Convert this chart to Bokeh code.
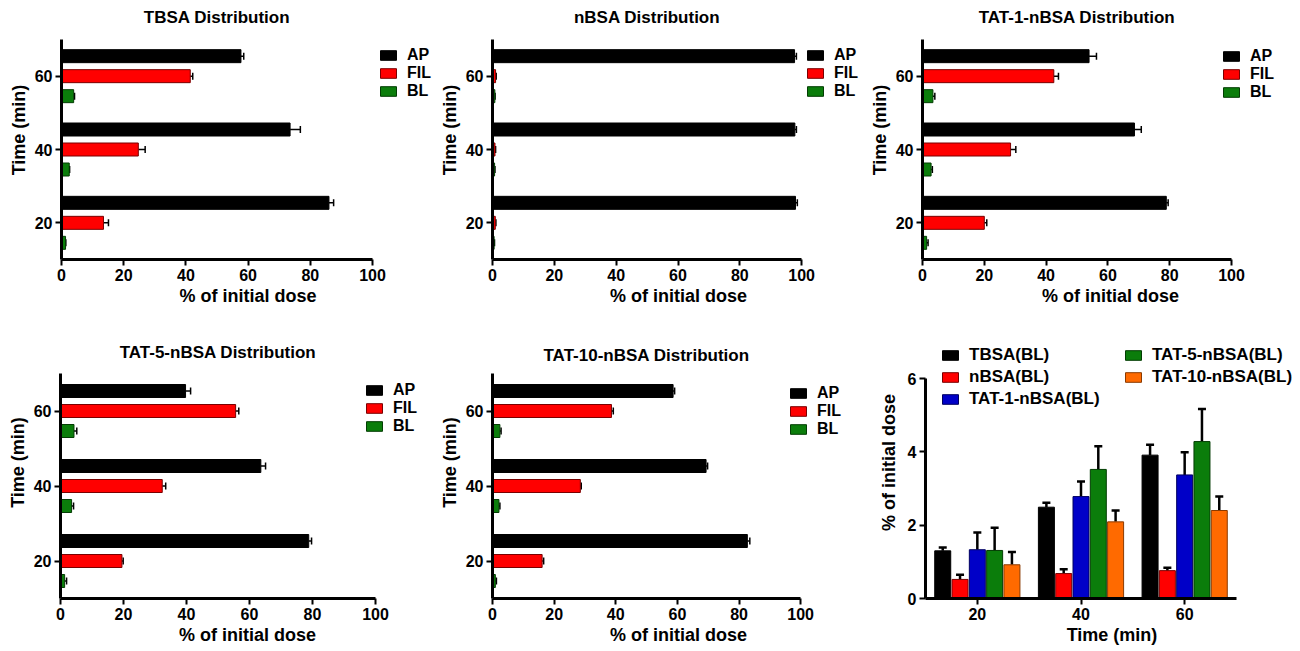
from bokeh.plotting import figure
from bokeh.models import (ColumnDataSource, Whisker, TeeHead, Legend, LegendItem,
                          Range1d, FixedTicker, Label)
from bokeh.layouts import row, column
from bokeh.embed import file_html
from bokeh.resources import INLINE

# ---------------- data ----------------
times = [20, 40, 60]
x_ticks = [0, 20, 40, 60, 80, 100]
bl_ticks = [0, 2, 4, 6]
h_series = ["AP", "FIL", "BL"]

titles = ["TBSA Distribution", "nBSA Distribution", "TAT-1-nBSA Distribution",
          "TAT-5-nBSA Distribution", "TAT-10-nBSA Distribution"]

tbsa_ap = [86.0, 73.5, 57.7]
tbsa_ap_err = [1.5, 3.3, 0.9]
tbsa_fil = [13.5, 24.7, 41.4]
tbsa_fil_err = [1.6, 2.2, 0.8]
tbsa_bl = [1.30, 2.49, 3.91]
tbsa_bl_err = [0.09, 0.12, 0.28]

nbsa_ap = [98.0, 97.8, 97.7]
nbsa_ap_err = [0.6, 0.5, 0.6]
nbsa_fil = [0.9, 0.8, 1.0]
nbsa_fil_err = [0.2, 0.2, 0.2]
nbsa_bl = [0.52, 0.68, 0.76]
nbsa_bl_err = [0.13, 0.12, 0.08]

tat1_ap = [78.9, 68.6, 53.9]
tat1_ap_err = [0.6, 2.2, 2.4]
tat1_fil = [20.0, 28.5, 42.5]
tat1_fil_err = [0.8, 1.7, 1.5]
tat1_bl = [1.33, 2.78, 3.37]
tat1_bl_err = [0.47, 0.41, 0.62]

tat5_ap = [78.8, 63.6, 39.7]
tat5_ap_err = [0.9, 1.5, 1.6]
tat5_fil = [19.5, 32.3, 55.6]
tat5_fil_err = [0.4, 1.1, 1.0]
tat5_bl = [1.31, 3.52, 4.28]
tat5_bl_err = [0.62, 0.63, 0.89]

tat10_ap = [82.7, 69.3, 58.6]
tat10_ap_err = [0.8, 0.5, 0.5]
tat10_fil = [16.1, 28.5, 38.6]
tat10_fil_err = [0.5, 0.3, 0.6]
tat10_bl = [0.92, 2.09, 2.40]
tat10_bl_err = [0.35, 0.31, 0.38]

bl_labels = ["TBSA(BL)", "nBSA(BL)", "TAT-1-nBSA(BL)", "TAT-5-nBSA(BL)", "TAT-10-nBSA(BL)"]

# ---------------- styles / layout ----------------
FONT = "Liberation Sans"
H_FILL = {"AP": "#000000", "FIL": "#FF0000", "BL": "#0B7D0B"}
H_LINE = {"AP": "#000000", "FIL": "#7A0000", "BL": "#033D03"}
V_FILL = ["#000000", "#FF0000", "#0000C8", "#0B7D0B", "#FF6A00"]
V_LINE = ["#000000", "#7A0000", "#000060", "#033D03", "#8A3A00"]

# page-pixel geometry of each horizontal panel
H_GEOM = [
    dict(box=(0, 0, 436, 326), x0=61, x100=372, ytop=39, ybot=259, tcy=17, lx=378, lcy=56),
    dict(box=(436, 0, 430, 326), x0=491, x100=801, ytop=39, ybot=259, tcy=17, lx=804, lcy=56),
    dict(box=(866, 0, 434, 326), x0=922, x100=1231, ytop=39, ybot=259, tcy=17, lx=1221, lcy=57),
    dict(box=(0, 326, 436, 325), x0=60, x100=375, ytop=373, ybot=598, tcy=352, lx=364, lcy=391),
    dict(box=(436, 326, 430, 325), x0=491, x100=800, ytop=373, ybot=598, tcy=355, lx=787, lcy=394),
]


def style_axis(ax, label, standoff):
    ax.axis_label = label
    ax.axis_line_width = 3
    ax.axis_line_color = "black"
    ax.major_tick_line_width = 2
    ax.major_tick_line_color = "black"
    ax.major_tick_out = 6
    ax.major_tick_in = 0
    ax.minor_tick_line_color = None
    ax.major_label_standoff = 3
    ax.major_label_text_font = FONT
    ax.major_label_text_font_style = "bold"
    ax.major_label_text_font_size = "16px"
    ax.major_label_text_color = "black"
    ax.axis_label_standoff = standoff
    ax.axis_label_text_font = FONT
    ax.axis_label_text_font_style = "bold"
    ax.axis_label_text_font_size = "18px"
    ax.axis_label_text_color = "black"


def make_fig(box, frame, x_range, y_range):
    ox, oy, w, h = box
    l, t, r, b = frame
    p = figure(width=w, height=h, output_backend="svg", toolbar_location=None,
               x_range=x_range, y_range=y_range,
               min_border_left=l - ox, min_border_right=ox + w - r,
               min_border_top=t - oy, min_border_bottom=oy + h - b)
    p.outline_line_color = None
    p.xgrid.visible = False
    p.ygrid.visible = False
    p.background_fill_color = "white"
    p.border_fill_color = "white"
    return p


def style_legend(leg, size, spacing):
    leg.border_line_color = None
    leg.background_fill_alpha = 0
    leg.padding = 0
    leg.margin = 0
    leg.spacing = spacing
    leg.glyph_width = 20
    leg.glyph_height = 12
    leg.label_standoff = 9
    leg.label_height = 16
    leg.label_text_font = FONT
    leg.label_text_font_style = "bold"
    leg.label_text_font_size = size
    leg.label_text_color = "black"


def hpanel(title, series, g):
    ox, oy, w, h = g["box"]
    x0, x100, ytop, ybot = g["x0"], g["x100"], g["ytop"], g["ybot"]
    fr = ox + w - 2
    x_end = 100.0 * (fr - x0) / (x100 - x0)
    ppu = (ybot - ytop) / 60.0
    y_end = 70 + (ytop - oy) / ppu
    p = make_fig(g["box"], (x0, oy, fr, ybot), Range1d(0, x_end), Range1d(10, y_end))

    off = 20.0 / ppu
    bh = 13.0 / ppu
    offsets = {"AP": off, "FIL": 0.0, "BL": -off}
    renderers = []
    for name in h_series:
        vals, errs = series[name]
        src = ColumnDataSource(dict(y=[t + offsets[name] for t in times], v=vals,
                                    ve=[a + e for a, e in zip(vals, errs)]))
        r = p.hbar(y="y", right="v", left=0, height=bh, source=src,
                   fill_color=H_FILL[name], line_color=H_LINE[name], line_width=1)
        wk = Whisker(source=src, base="y", lower="v", upper="ve", dimension="width",
                     line_width=1.5, line_color="black", lower_head=None,
                     upper_head=TeeHead(size=7, line_width=1.5, line_color="black"))
        p.add_layout(wk)
        renderers.append((name, r))

    p.xaxis.bounds = (0, 100)
    p.xaxis.ticker = FixedTicker(ticks=x_ticks)
    p.yaxis.bounds = (10, 70)
    p.yaxis.ticker = FixedTicker(ticks=times)
    style_axis(p.xaxis[0], "% of initial dose", 2)
    style_axis(p.yaxis[0], "Time (min)", 3)

    p.add_layout(Label(x=50, y=70 + (ytop - g["tcy"]) / ppu, text=title,
                       text_align="center", text_baseline="middle",
                       text_font=FONT, text_font_style="bold", text_font_size="17px",
                       text_color="black"))

    pitch = 17.5
    leg_bottom = g["lcy"] - pitch / 2 + 3 * pitch
    leg = Legend(items=[LegendItem(label=n, renderers=[r]) for n, r in renderers],
                 location=(g["lx"] - x0, ybot - leg_bottom))
    style_legend(leg, "16px", 0)
    p.add_layout(leg)
    return p


panels = []
all_series = [
    {"AP": (tbsa_ap, tbsa_ap_err), "FIL": (tbsa_fil, tbsa_fil_err), "BL": (tbsa_bl, tbsa_bl_err)},
    {"AP": (nbsa_ap, nbsa_ap_err), "FIL": (nbsa_fil, nbsa_fil_err), "BL": (nbsa_bl, nbsa_bl_err)},
    {"AP": (tat1_ap, tat1_ap_err), "FIL": (tat1_fil, tat1_fil_err), "BL": (tat1_bl, tat1_bl_err)},
    {"AP": (tat5_ap, tat5_ap_err), "FIL": (tat5_fil, tat5_fil_err), "BL": (tat5_bl, tat5_bl_err)},
    {"AP": (tat10_ap, tat10_ap_err), "FIL": (tat10_fil, tat10_fil_err), "BL": (tat10_bl, tat10_bl_err)},
]
for t, s, g in zip(titles, all_series, H_GEOM):
    panels.append(hpanel(t, s, g))

# ---------------- BL comparison panel ----------------
box6 = (866, 326, 434, 325)
ax_left, ax_right, y0px, y6px = 925, 1236, 598, 378
fr6 = 1298
ppx = (ax_right - ax_left) / 60.0
ppy = (y0px - y6px) / 6.0
x_end6 = 70 + (fr6 - ax_right) / ppx
y_end6 = 6 + (y6px - box6[1]) / ppy
p6 = make_fig(box6, (ax_left, box6[1], fr6, y0px), Range1d(10, x_end6), Range1d(0, y_end6))

bl_vals = [tbsa_bl, nbsa_bl, tat1_bl, tat5_bl, tat10_bl]
bl_errs = [tbsa_bl_err, nbsa_bl_err, tat1_bl_err, tat5_bl_err, tat10_bl_err]
pitch_x = 17.3 / ppx
bw = 16.0 / ppx
r6 = []
for i, (vals, errs) in enumerate(zip(bl_vals, bl_errs)):
    src = ColumnDataSource(dict(x=[t + (i - 2) * pitch_x for t in times], v=vals,
                                ve=[a + e for a, e in zip(vals, errs)]))
    r = p6.vbar(x="x", top="v", bottom=0, width=bw, source=src,
                fill_color=V_FILL[i], line_color=V_LINE[i], line_width=1)
    p6.add_layout(Whisker(source=src, base="x", lower="v", upper="ve", dimension="height",
                          line_width=2.5, line_color="black", lower_head=None,
                          upper_head=TeeHead(size=8, line_width=2.5, line_color="black")))
    r6.append(r)

p6.xaxis.bounds = (10, 70)
p6.xaxis.ticker = FixedTicker(ticks=times)
p6.yaxis.bounds = (0, 6)
p6.yaxis.ticker = FixedTicker(ticks=bl_ticks)
style_axis(p6.xaxis[0], "Time (min)", 2)
style_axis(p6.yaxis[0], "% of initial dose", 6)

item_h, item_gap = 20, 2
lg1_bottom = 355 - item_h / 2 + 3 * item_h + 2 * item_gap
lg2_bottom = 355 - item_h / 2 + 2 * item_h + item_gap
leg1 = Legend(items=[LegendItem(label=bl_labels[i], renderers=[r6[i]]) for i in range(3)],
              location=(940 - ax_left, y0px - lg1_bottom))
leg2 = Legend(items=[LegendItem(label=bl_labels[i], renderers=[r6[i]]) for i in range(3, 5)],
              location=(1123 - ax_left, y0px - lg2_bottom))
for lg in (leg1, leg2):
    style_legend(lg, "17px", item_gap)
    p6.add_layout(lg)

layout = column(row(panels[0], panels[1], panels[2]), row(panels[3], panels[4], p6))

with open("out.html", "w") as f:
    f.write(file_html(layout, INLINE))
